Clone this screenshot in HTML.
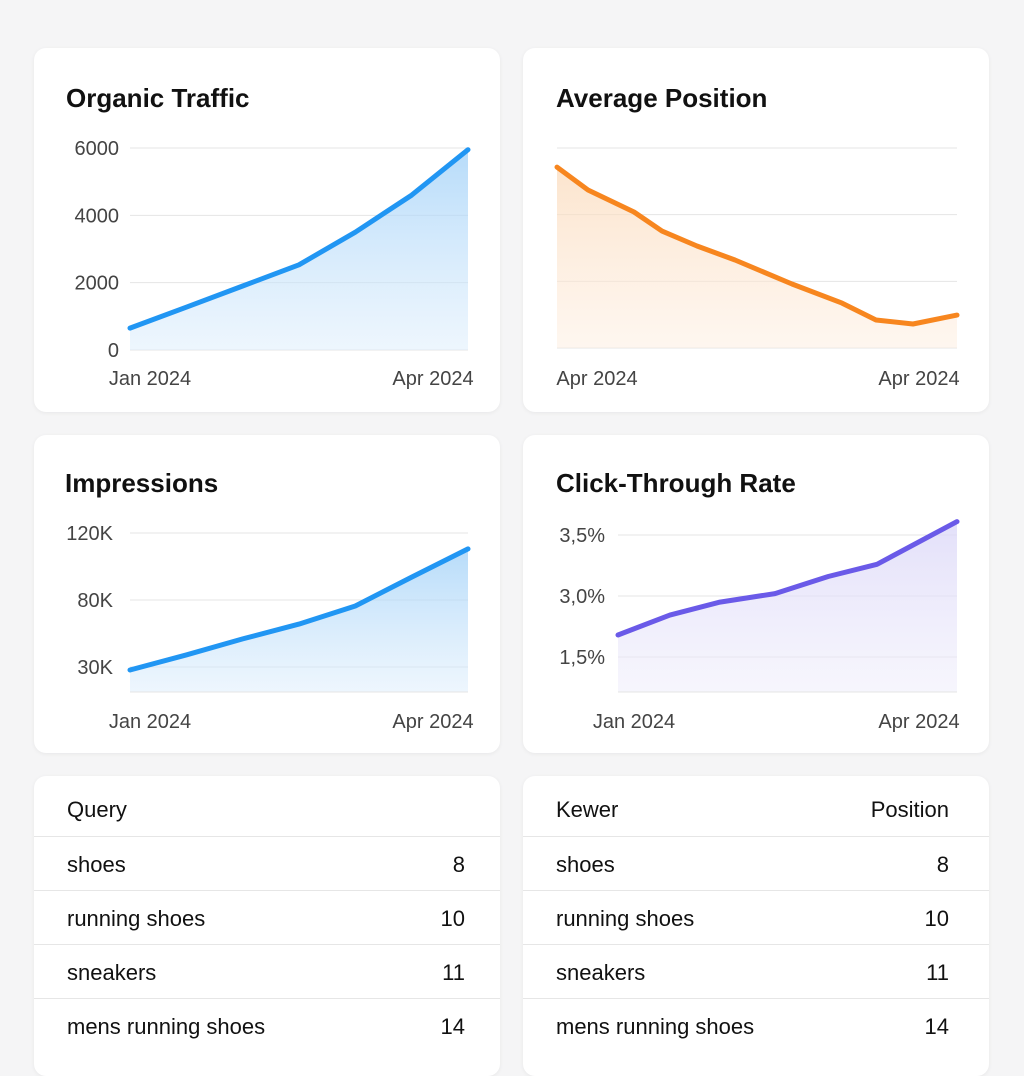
<!DOCTYPE html>
<html><head><meta charset="utf-8"><style>
body{margin:0;width:1024px;height:1024px;background:#f5f5f6;font-family:"Liberation Sans",sans-serif;overflow:hidden;position:relative}
.card{position:absolute;background:#fff;border-radius:12px;box-shadow:0 1px 4px rgba(0,0,0,.06)}
.title{position:absolute;font-size:26px;color:#111;font-weight:bold}
svg{position:absolute;left:0;top:0}
.tbl{position:absolute;font-size:22px;color:#111}
.row{position:absolute;left:0;right:0;border-top:1.5px solid #e6e6e6}
.row span{position:absolute}
</style></head><body>
<div class="card" style="left:34px;top:48px;width:466px;height:364px"><div class="title" style="left:32px;top:35px">Organic Traffic</div></div>
<div class="card" style="left:523px;top:48px;width:466px;height:364px"><div class="title" style="left:33px;top:35px">Average Position</div></div>
<div class="card" style="left:34px;top:435px;width:466px;height:318px"><div class="title" style="left:31px;top:33px">Impressions</div></div>
<div class="card" style="left:523px;top:435px;width:466px;height:318px"><div class="title" style="left:33px;top:33px">Click-Through Rate</div></div>
<div class="card tbl" style="left:34px;top:776px;width:466px;height:300px">
<span style="position:absolute;left:33px;top:21px">Query</span>
<div class="row" style="top:60px;height:54px"><span style="left:33px;top:15px">shoes</span><span style="right:35px;top:15px">8</span></div>
<div class="row" style="top:114px;height:54px"><span style="left:33px;top:15px">running shoes</span><span style="right:35px;top:15px">10</span></div>
<div class="row" style="top:168px;height:54px"><span style="left:33px;top:15px">sneakers</span><span style="right:35px;top:15px">11</span></div>
<div class="row" style="top:222px;height:54px"><span style="left:33px;top:15px">mens running shoes</span><span style="right:35px;top:15px">14</span></div>
</div>
<div class="card tbl" style="left:523px;top:776px;width:466px;height:300px">
<span style="position:absolute;left:33px;top:21px">Kewer</span>
<span style="position:absolute;right:40px;top:21px">Position</span>
<div class="row" style="top:60px;height:54px"><span style="left:33px;top:15px">shoes</span><span style="right:40px;top:15px">8</span></div>
<div class="row" style="top:114px;height:54px"><span style="left:33px;top:15px">running shoes</span><span style="right:40px;top:15px">10</span></div>
<div class="row" style="top:168px;height:54px"><span style="left:33px;top:15px">sneakers</span><span style="right:40px;top:15px">11</span></div>
<div class="row" style="top:222px;height:54px"><span style="left:33px;top:15px">mens running shoes</span><span style="right:40px;top:15px">14</span></div>
</div>
<svg id="s" width="1024" height="1024">
<defs>
<linearGradient id="gb" x1="0" y1="0" x2="0" y2="1"><stop offset="0" stop-color="#9fd0f8" stop-opacity=".75"/><stop offset="1" stop-color="#dcedfc" stop-opacity=".5"/></linearGradient>
<linearGradient id="go" x1="0" y1="0" x2="0" y2="1"><stop offset="0" stop-color="#fbd9b8" stop-opacity=".7"/><stop offset="1" stop-color="#fdeee0" stop-opacity=".5"/></linearGradient>
<linearGradient id="gp" x1="0" y1="0" x2="0" y2="1"><stop offset="0" stop-color="#dcd8f8" stop-opacity=".8"/><stop offset="1" stop-color="#eeecfb" stop-opacity=".5"/></linearGradient>
</defs>
</svg>
<script>
// Organic traffic
const trafficX=[0,1,2,3,4,5,6];
const trafficVals=[650,1270,1900,2530,3500,4600,5950];
const trafficTicks=[0,2000,4000,6000];
const trafficXLabels=["Jan 2024","Apr 2024"];
// Average position
const posX=[0,7.75,19.25,26.25,35,44.5,58.75,71.25,79.75,89,100];
const posVals=[3.86,4.89,5.88,6.74,7.41,8.04,9.12,9.98,10.74,10.92,10.52];
const posTicks=[3,6,9,12];
const posXLabels=["Apr 2024","Apr 2024"];
// Impressions
const impX=[0,1,2,3,4,5,6];
const impVals=[28.2,39,51,62,75.5,93.7,110.5];
const impTicks=[30,80,120];
const impTickLabels=["30K","80K","120K"];
const impXLabels=["Jan 2024","Apr 2024"];
// CTR
const ctrX=[0,15.3,30.1,46.3,62,76.4,100];
const ctrVals=[2.04,2.53,2.85,3.02,3.16,3.26,3.61];
const ctrTicks=[1.5,3.0,3.5];
const ctrTickLabels=["1,5%","3,0%","3,5%"];
const ctrXLabels=["Jan 2024","Apr 2024"];

const S=document.getElementById('s');
const NS='http://www.w3.org/2000/svg';
function mk(tag,at,name){const e=document.createElementNS(NS,tag);for(const k in at)e.setAttribute(k,at[k]);


S.appendChild(e);return e;}
function lin(d0,d1,r0,r1){return v=>r0+(v-d0)/(d1-d0)*(r1-r0);}
function pw(ds,rs){return v=>{let i=0;while(i<ds.length-2&&v>ds[i+1])i++;return rs[i]+(v-ds[i])/(ds[i+1]-ds[i])*(rs[i+1]-rs[i]);};}
function chart(o){
  o.grid.forEach(g=>mk('line',{x1:o.gx0,x2:o.gx1,y1:o.y(g),y2:o.y(g),stroke:'#e4e4e4','stroke-width':1},'gridline'));
  if(o.tl)o.tl.forEach((t,i)=>{const e=mk('text',{x:o.lx,y:o.y(o.grid[i])+7,'font-size':20,fill:'#444','text-anchor':o.anchor||'start'},'y-tick-label');e.textContent=t;});
  const pts=o.xs.map((x,i)=>[o.x(x),o.y(o.vals[i])]);
  const d=pts.map((p,i)=>(i?'L':'M')+p[0].toFixed(1)+','+p[1].toFixed(1)).join('');
  mk('path',{d:d+'L'+pts[pts.length-1][0]+','+o.base+'L'+pts[0][0]+','+o.base+'Z',fill:o.fill},'area-fill');
  mk('path',{d:d,fill:'none',stroke:o.color,'stroke-width':5,'stroke-linejoin':'round','stroke-linecap':'round'},'series-line');
  const a=mk('text',{x:o.xl0,y:o.xly,'font-size':20,fill:'#444','text-anchor':'middle'},'x-tick-label');a.textContent=o.xlab[0];
  const b=mk('text',{x:o.xl1,y:o.xly,'font-size':20,fill:'#444','text-anchor':'middle'},'x-tick-label');b.textContent=o.xlab[1];
}
chart({xs:trafficX,vals:trafficVals,grid:trafficTicks,tl:trafficTicks.map(String),x:lin(0,6,130,468),y:lin(0,6000,350,148),gx0:130,gx1:468,lx:119,anchor:'end',base:350,fill:'url(#gb)',color:'#2196f3',xlab:trafficXLabels,xl0:150,xl1:433,xly:385});
chart({xs:posX,vals:posVals,grid:posTicks,tl:null,x:lin(0,100,557,957),y:lin(3,12,148,348),gx0:557,gx1:957,base:348,fill:'url(#go)',color:'#f7861f',xlab:posXLabels,xl0:597,xl1:919,xly:385});
chart({xs:impX,vals:impVals,grid:impTicks,tl:impTickLabels,x:lin(0,6,130,468),y:pw([15,30,80,120],[692,667,600,533]),gx0:130,gx1:468,lx:113,anchor:'end',base:692,fill:'url(#gb)',color:'#2196f3',xlab:impXLabels,xl0:150,xl1:433,xly:728});
chart({xs:ctrX,vals:ctrVals,grid:ctrTicks,tl:ctrTickLabels,x:lin(0,100,618,957),y:pw([0.64,1.5,3.0,3.5],[692,657,596,535]),gx0:618,gx1:957,lx:605,anchor:'end',base:692,fill:'url(#gp)',color:'#6a5ae8',xlab:ctrXLabels,xl0:634,xl1:919,xly:728});
mk('line',{x1:130,x2:468,y1:692,y2:692,stroke:'#e4e4e4'},'x-axis');
mk('line',{x1:618,x2:957,y1:692,y2:692,stroke:'#e4e4e4'},'x-axis');
</script>
</body></html>
